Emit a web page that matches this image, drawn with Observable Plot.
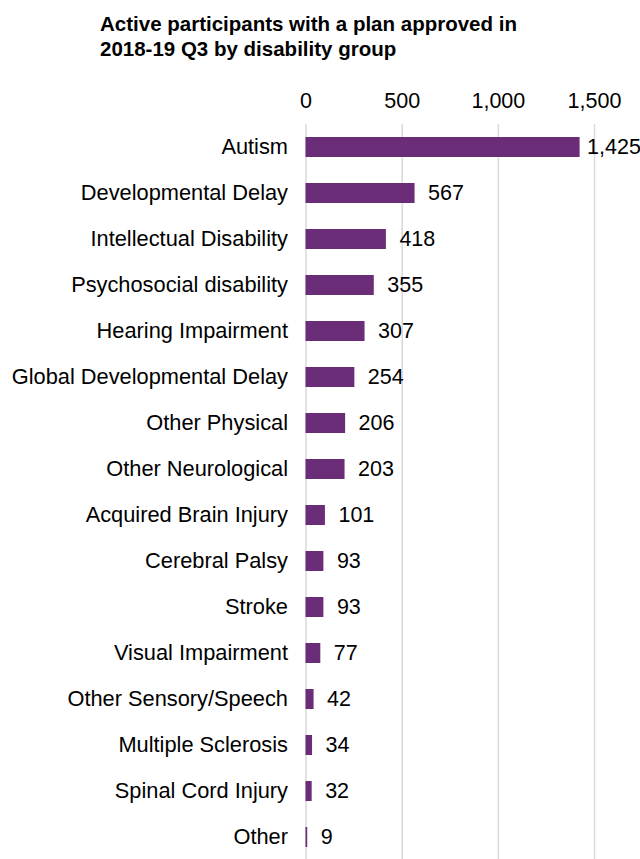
<!DOCTYPE html>
<html>
<head>
<meta charset="utf-8">
<script src="https://cdn.jsdelivr.net/npm/d3@7"></script>
<script src="https://cdn.jsdelivr.net/npm/@observablehq/plot@0.6"></script>
<style>
  html, body { margin: 0; padding: 0; background: #fff; }
  #wrap { position: relative; width: 640px; height: 859px; overflow: hidden; }
  #title { position: absolute; left: 100px; top: 11px; font-family: "Liberation Sans", Arial, sans-serif; font-weight: bold; font-size: 20.5px; line-height: 25px; color: #000; }
  svg { display: block; }
</style>
</head>
<body>
<div id="wrap">
  <div id="title">Active participants with a plan approved in<br>2018-19 Q3 by disability group</div>
  <div id="chart"></div>
</div>
<script>
const categories = [
  "Autism", "Developmental Delay", "Intellectual Disability", "Psychosocial disability",
  "Hearing Impairment", "Global Developmental Delay", "Other Physical", "Other Neurological",
  "Acquired Brain Injury", "Cerebral Palsy", "Stroke", "Visual Impairment",
  "Other Sensory/Speech", "Multiple Sclerosis", "Spinal Cord Injury", "Other"
];
const values = [1425, 567, 418, 355, 307, 254, 206, 203, 101, 93, 93, 77, 42, 34, 32, 9];
const xTicks = [0, 500, 1000, 1500];

const data = categories.map((c, i) => ({category: c, value: values[i]}));
const fmt = d3.format(",");
const font = "Liberation Sans, Arial, sans-serif";

const chart = Plot.plot({
  width: 640,
  height: 859,
  marginTop: 124,
  marginBottom: 0,
  marginLeft: 305.5,
  marginRight: 0,
  style: {fontFamily: font, fontSize: "21.5px", color: "#000", background: "transparent"},
  x: {domain: [0, 1739], axis: null},
  y: {domain: categories, paddingInner: 0.566, paddingOuter: 0.26, align: 0.5, axis: null},
  marks: [
    Plot.gridX(xTicks, {stroke: "#d9d9d9", strokeOpacity: 1, strokeWidth: 1.5}),
    Plot.axisX(xTicks, {anchor: "top", label: null, tickSize: 0, tickPadding: 17, tickFormat: fmt, fontSize: 21.5, fill: "#000"}),
    Plot.axisY({label: null, tickSize: 0, tickPadding: 18, fontSize: 21.8, fill: "#000"}),
    Plot.barX(data, {x: "value", y: "category", fill: "#6b2c78"}),
    Plot.text(data.filter(d => d.value < 1000), {x: "value", y: "category", text: d => fmt(d.value), textAnchor: "start", dx: 13, fontSize: 21.5, fill: "#000"}),
    Plot.text(data.filter(d => d.value >= 1000), {x: "value", y: "category", text: d => fmt(d.value), textAnchor: "start", dx: 7, fontSize: 21.5, fill: "#000"})
  ]
});
document.getElementById("chart").appendChild(chart);
</script>
</body>
</html>
